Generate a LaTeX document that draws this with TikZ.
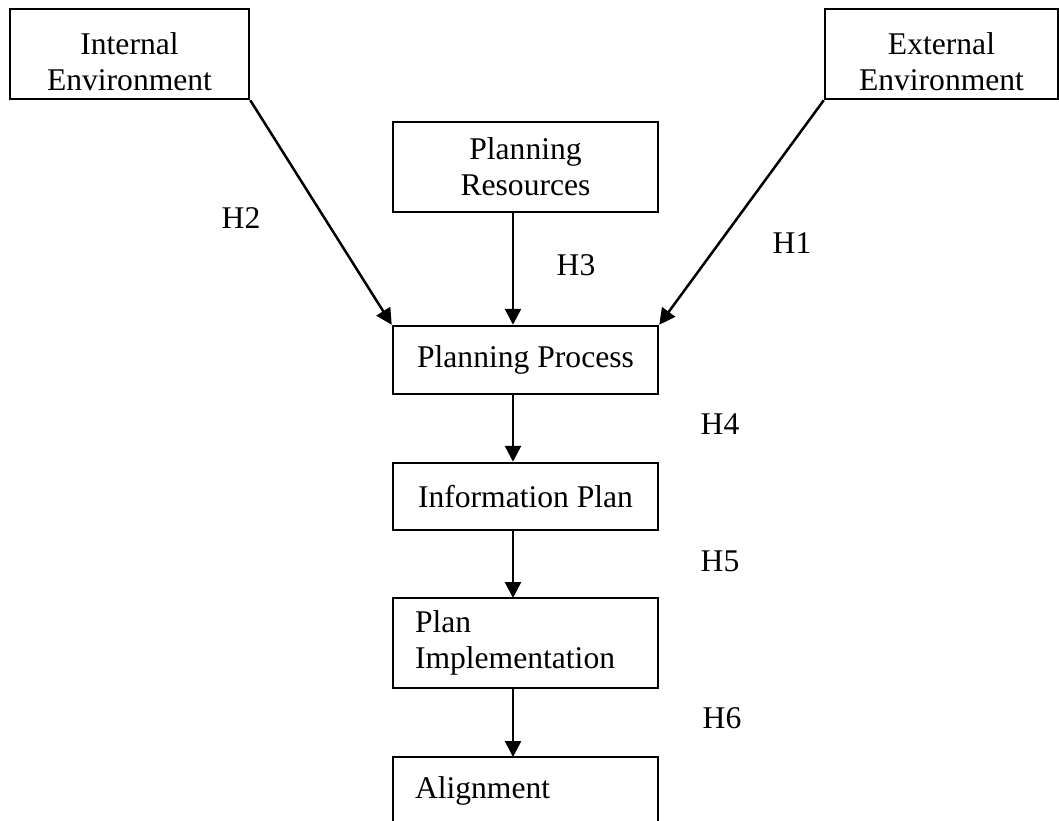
\documentclass[tikz,border=0pt]{standalone}
\usepackage{fontspec}
\setmainfont{Liberation Serif}
\usetikzlibrary{arrows.meta}
\begin{document}
\begin{tikzpicture}[x=1pt,y=-1pt,
  txt/.style={font=\fontsize{31.6}{36}\selectfont},
  box/.style={txt,draw,line width=2.5pt,inner sep=0pt,align=center},
  lbox/.style={txt,draw,line width=2.5pt,outer sep=0pt,inner xsep=22pt,text width=221pt,align=left,anchor=north west},
  lbl/.style={txt,inner sep=0pt},
  arr/.style={line width=2.5pt,-{Triangle[length=16pt,width=16pt]}}]
\useasboundingbox (0,0) rectangle (1059,820);

% vertical axis of the main chain
\coordinate (axis) at (513,0);

% source boxes (text of the two environment boxes sits a little low)
\node[box,minimum width=239pt,minimum height=90pt] (int) at (129.5,54) {};
\node[txt,align=center] (int-t) at ([yshift=-8pt]int.center) {Internal\\Environment};
\node[box,minimum width=233pt,minimum height=90pt] (ext) at (941.5,54) {};
\node[txt,align=center] (ext-t) at ([yshift=-8pt]ext.center) {External\\Environment};
\node[box,minimum width=265pt,minimum height=90pt] (res) at (525.5,167) {Planning\\Resources};

% main chain
\node[box,minimum width=265pt,minimum height=68pt] (proc) at (525.5,360) {Planning Process};
\node[box,minimum width=265pt,minimum height=67pt] (info) at (525.5,496.5) {Information Plan};
\node[lbox,minimum height=90pt] (impl) at (393,598) {Plan\\Implementation};
\node[lbox,inner ysep=16pt,text height=25pt,text depth=40pt] (align) at (393,757) {Alignment};

% connectors
\draw[arr] (int.south east) -- (proc.north west);
\draw[arr] (ext.south west) -- (proc.north east);
\draw[arr] (res.south -| axis) -- (proc.north -| axis);
\draw[arr] (proc.south -| axis) -- (info.north -| axis);
\draw[arr] (info.south -| axis) -- (impl.north -| axis);
\draw[arr] (impl.south -| axis) -- (align.north -| axis);

% hypothesis labels
\node[lbl] (h2) at (241,218) {H2};
\node[lbl] (h3) at (576,265) {H3};
\node[lbl] (h1) at (792,243) {H1};
\node[lbl] (h4) at (720,424) {H4};
\node[lbl] (h5) at (720,561) {H5};
\node[lbl] (h6) at (722,718) {H6};
\end{tikzpicture}
\end{document}
